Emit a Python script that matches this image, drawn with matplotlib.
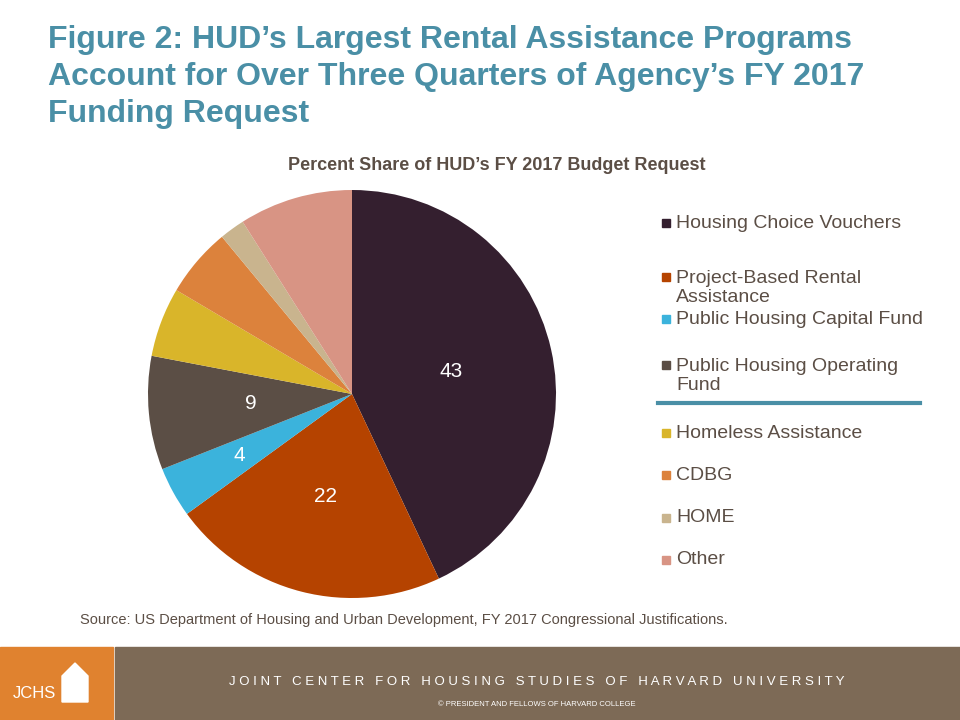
import matplotlib
matplotlib.use("Agg")
import matplotlib.pyplot as plt
from matplotlib.patches import Rectangle, Polygon
import numpy as np

labels = ["Housing Choice Vouchers", "Project-Based Rental\nAssistance", "Public Housing Capital Fund",
          "Public Housing Operating\nFund", "Homeless Assistance", "CDBG", "HOME", "Other"]
values = [43, 22, 4, 9, 5.5, 5.5, 2, 9]
shown = ["43", "22", "4", "9", "", "", "", ""]
colors = ["#341F2F", "#B54300", "#3BB3DC", "#5B4E45", "#D9B52A", "#DC823C", "#C9B48E", "#D89484"]

fig = plt.figure(figsize=(9.6, 7.2), dpi=100)
W, H = 960, 720
def fx(x): return x / W
def fy(y): return 1 - y / H

fig.text(fx(48), fy(77), "Figure 2: HUD’s Largest Rental Assistance Programs\nAccount for Over Three Quarters of Agency’s FY 2017\nFunding Request",
         color="#4A8FA6", fontsize=23, fontweight="bold", va="center", ha="left", linespacing=1.3,
         family="Liberation Sans")
fig.text(fx(497), fy(166), "Percent Share of HUD’s FY 2017 Budget Request", color="#5B4E45",
         fontsize=13, fontweight="bold", ha="center", va="center", family="Liberation Sans")

ax = fig.add_axes([fx(148), fy(598), 408 / W, 408 / H])
wedges, _ = ax.pie(values, colors=colors, startangle=90, counterclock=False, radius=1)
ax.set_xlim(-1, 1); ax.set_ylim(-1, 1)
radii = {"43": 0.5, "22": 0.52, "4": 0.63, "9": 0.5}
for w, s in zip(wedges, shown):
    if s:
        ang = np.deg2rad((w.theta1 + w.theta2) / 2)
        r = radii[s]
        ax.text(r * np.cos(ang), r * np.sin(ang), s, color="white", fontsize=15,
                ha="center", va="center", family="Liberation Sans")
ax.set_aspect("equal")

ys = [223, 277, 319, 365, 433, 475, 518, 560]
for y, lab, c in zip(ys, labels, colors):
    off = 11 if "\n" in lab else 0
    fig.patches.append(Rectangle((fx(662), fy(y + 4)), 8 / W, 8 / H, color=c, transform=fig.transFigure))
    fig.text(fx(676), fy(y + off), lab, color="#5B4E45", fontsize=14, ha="left", va="center",
             family="Liberation Sans", linespacing=1.2)
fig.lines.append(plt.Line2D([fx(658), fx(920)], [fy(403), fy(403)], color="#4A8FA6", lw=3,
                            transform=fig.transFigure))

fig.text(fx(80), fy(620), "Source: US Department of Housing and Urban Development, FY 2017 Congressional Justifications.",
         color="#5B4E45", fontsize=10.5, ha="left", va="center", family="Liberation Sans")

fig.patches.append(Rectangle((0, 0), fx(113), 73 / H, color="#E0822F", transform=fig.transFigure))
fig.patches.append(Rectangle((fx(115), 0), 1 - fx(115), 73 / H, color="#7D6A56", transform=fig.transFigure))
fig.patches.append(Polygon([(fx(62), fy(702)), (fx(62), fy(676)), (fx(75), fy(663)), (fx(88), fy(676)), (fx(88), fy(702))],
                           closed=True, color="white", transform=fig.transFigure))
fig.text(fx(34), fy(693), "JCHS", color="white", fontsize=12, ha="center", va="center", family="Liberation Sans")
fig.text(fx(537), fy(682), " ".join("JOINT CENTER FOR HOUSING STUDIES OF HARVARD UNIVERSITY"), color="white",
         fontsize=9.5, ha="center", va="center", family="Liberation Sans")
fig.text(fx(537), fy(705), "© PRESIDENT AND FELLOWS OF HARVARD COLLEGE", color="white",
         fontsize=5.5, ha="center", va="center", family="Liberation Sans")

fig.savefig("out.png", dpi=100)
